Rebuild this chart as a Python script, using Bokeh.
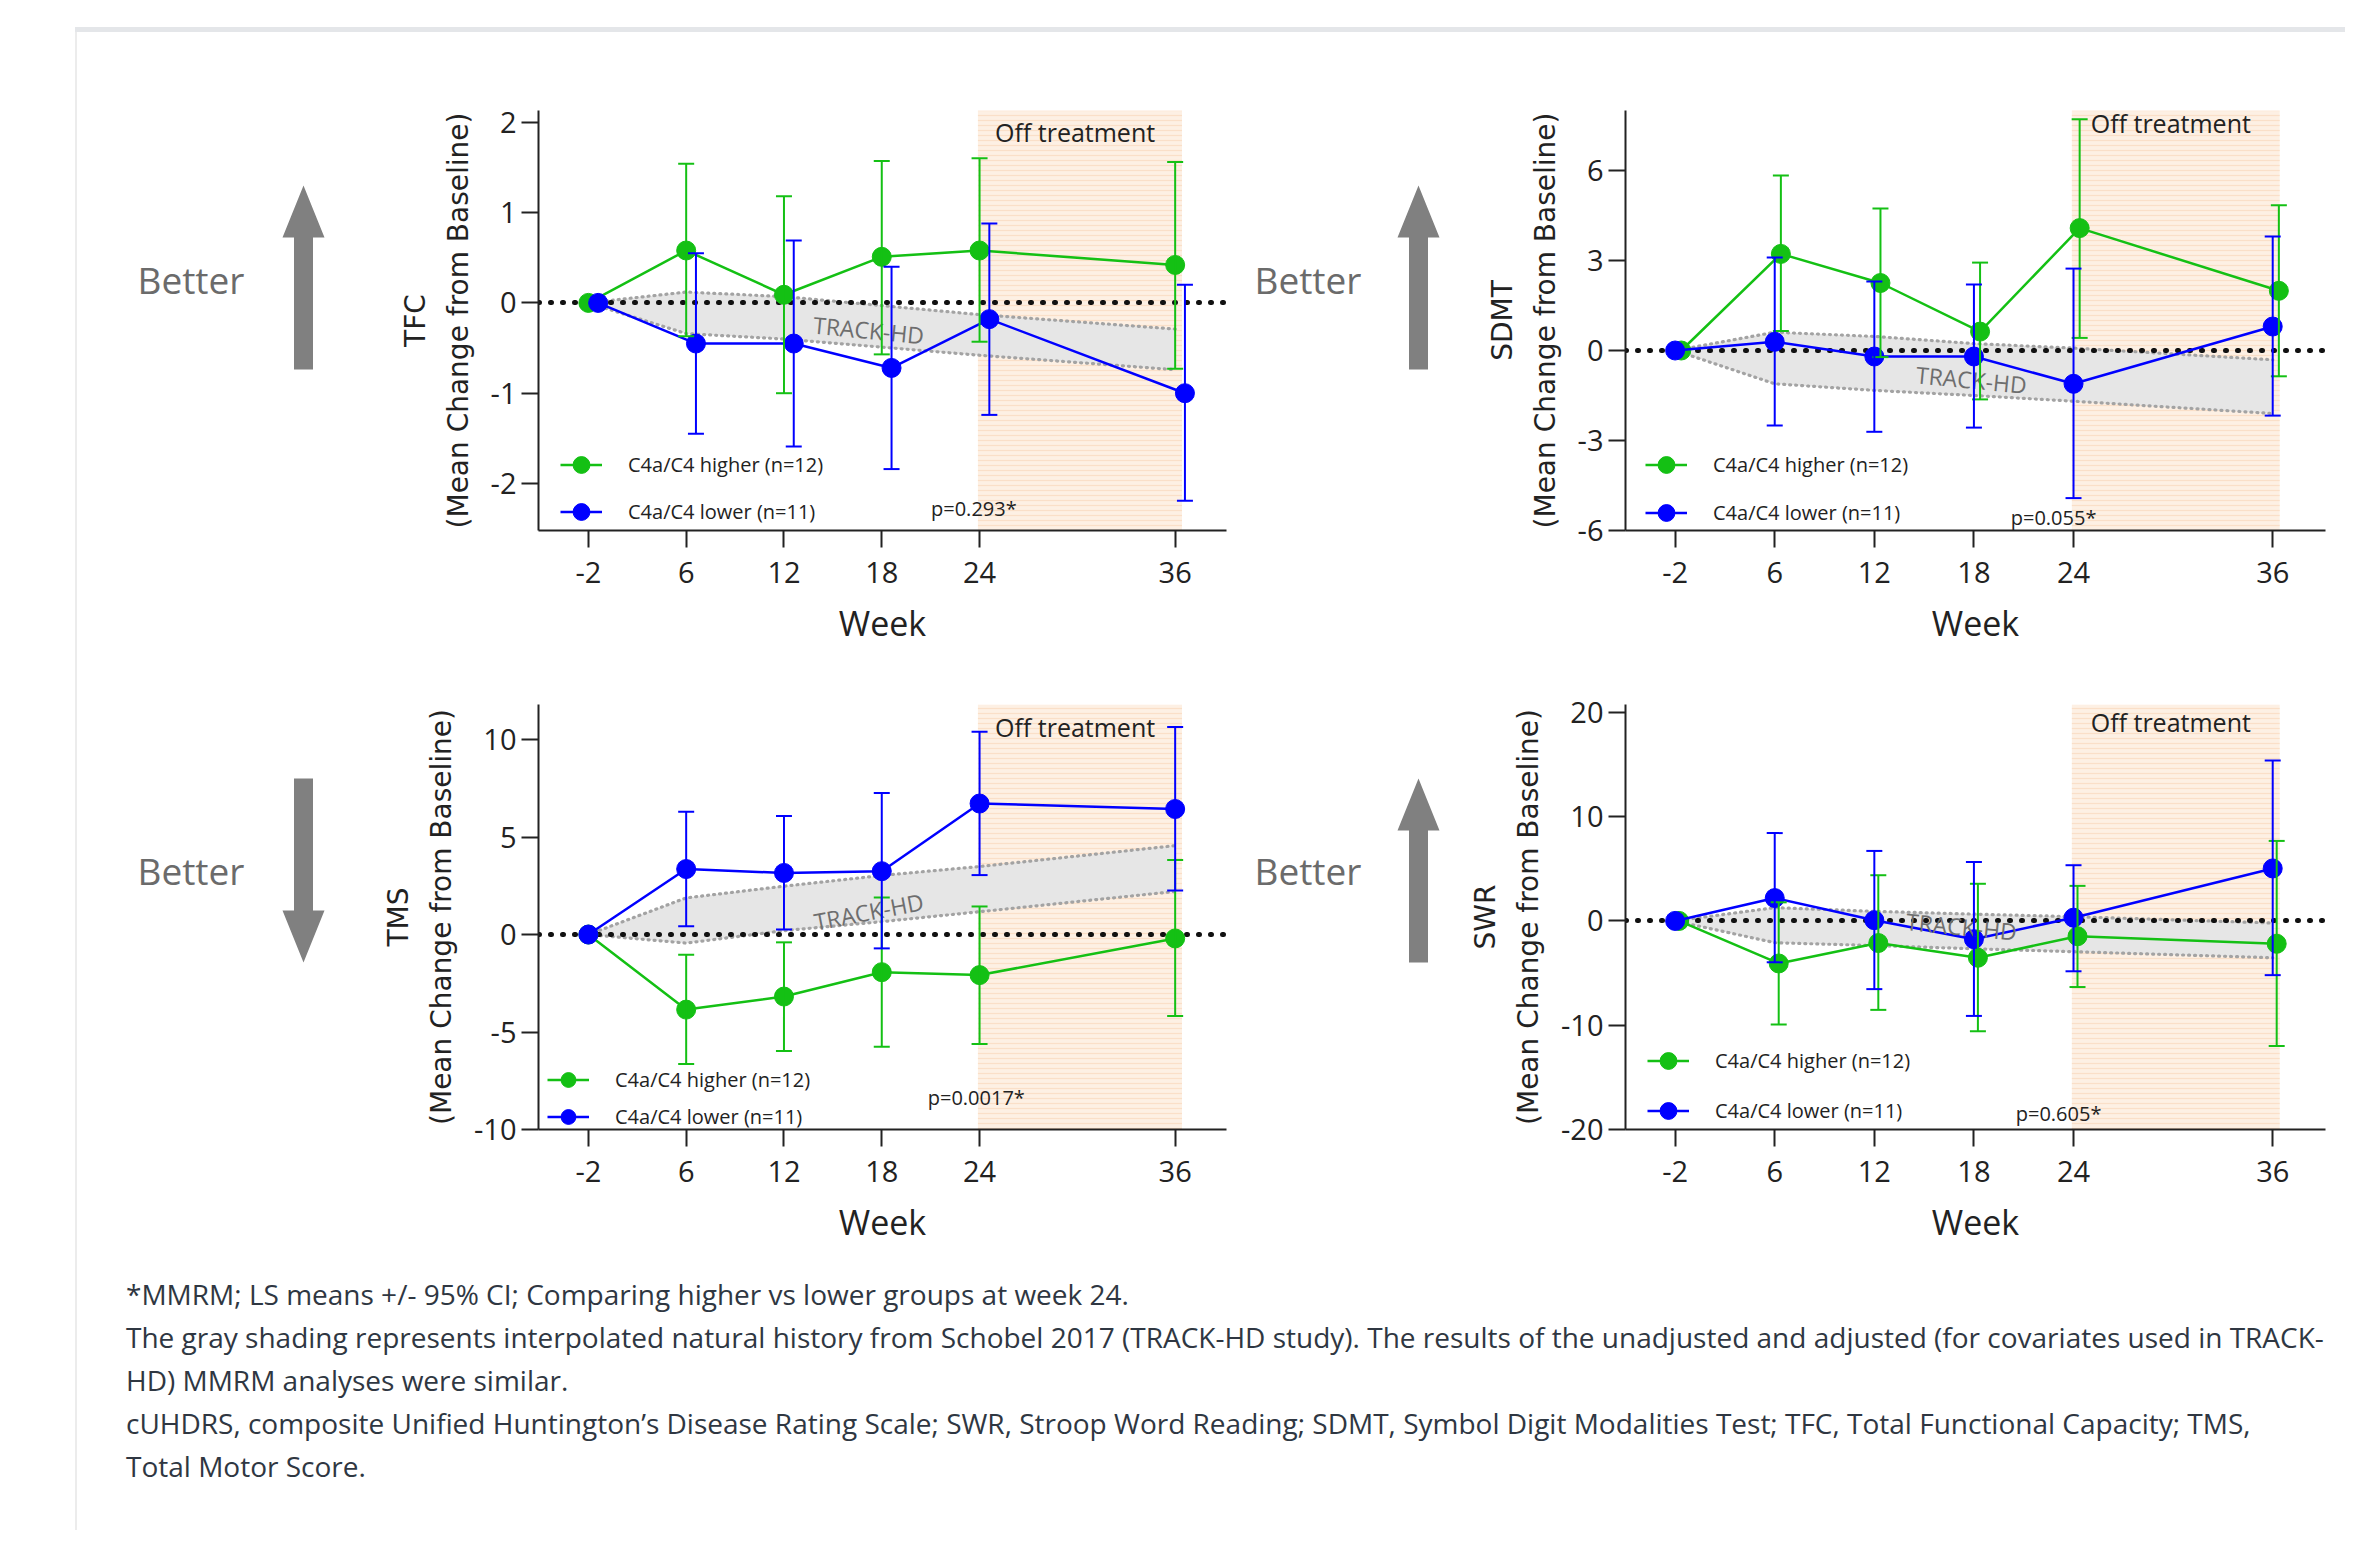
from bokeh.plotting import figure
from bokeh.models import (Range1d, Whisker, TeeHead, Legend, LegendItem, Label, Div,
                          Spacer, FixedTicker, ColumnDataSource)
from bokeh.layouts import row, column
from bokeh.transform import dodge
from bokeh.embed import file_html
from bokeh.resources import INLINE
from bokeh.core.properties import value

# ---------------- data ----------------
x_pos = [0, 6, 12, 18, 24, 36]
week_labels = ["-2", "6", "12", "18", "24", "36"]
off_start, off_end = 23.9, 36.42

# TFC
tfc_hi = [0, 0.58, 0.09, 0.51, 0.58, 0.42]
tfc_hi_lo = [0, -0.37, -1.00, -0.57, -0.43, -0.73]
tfc_hi_up = [0, 1.54, 1.18, 1.57, 1.60, 1.56]
tfc_lo = [0, -0.45, -0.45, -0.72, -0.18, -1.00]
tfc_lo_lo = [0, -1.45, -1.59, -1.84, -1.24, -2.19]
tfc_lo_up = [0, 0.55, 0.69, 0.40, 0.88, 0.20]
tfc_band_up = [0, 0.12, 0.07, -0.03, -0.13, -0.29]
tfc_band_lo = [0, -0.34, -0.40, -0.49, -0.58, -0.74]

# SDMT
sdmt_hi = [0, 3.22, 2.25, 0.63, 4.08, 1.99]
sdmt_hi_lo = [0, 0.65, -0.22, -1.63, 0.42, -0.86]
sdmt_hi_up = [0, 5.83, 4.73, 2.93, 7.71, 4.84]
sdmt_lo = [0, 0.29, -0.20, -0.20, -1.11, 0.80]
sdmt_lo_lo = [0, -2.50, -2.71, -2.57, -4.92, -2.17]
sdmt_lo_up = [0, 3.10, 2.30, 2.20, 2.73, 3.80]
sdmt_band_up = [0, 0.61, 0.47, 0.23, 0.08, -0.31]
sdmt_band_lo = [0, -1.11, -1.33, -1.50, -1.69, -2.10]

# TMS
tms_hi = [0, -3.85, -3.18, -1.93, -2.08, -0.20]
tms_hi_lo = [0, -6.64, -5.97, -5.75, -5.62, -4.18]
tms_hi_up = [0, -1.04, -0.40, 1.90, 1.44, 3.83]
tms_lo = [0, 3.36, 3.16, 3.25, 6.72, 6.44]
tms_lo_lo = [0, 0.42, 0.26, -0.71, 3.05, 2.26]
tms_lo_up = [0, 6.30, 6.08, 7.26, 10.40, 10.64]
tms_band_up = [0, 1.88, 2.48, 3.03, 3.49, 4.56]
tms_band_lo = [0, -0.44, 0.20, 0.66, 1.17, 2.21]

# SWR
swr_hi = [0, -4.08, -2.12, -3.53, -1.47, -2.19]
swr_hi_lo = [0, -9.93, -8.53, -10.58, -6.34, -11.99]
swr_hi_up = [0, 1.78, 4.38, 3.56, 3.36, 7.67]
swr_lo = [0, 2.19, 0.07, -1.75, 0.31, 5.03]
swr_lo_lo = [0, -3.97, -6.54, -9.11, -4.83, -5.20]
swr_lo_up = [0, 8.42, 6.71, 5.65, 5.34, 15.38]
swr_band_up = [0, 1.27, 0.92, 0.65, 0.41, -0.20]
swr_band_lo = [0, -2.09, -2.36, -2.67, -2.95, -3.53]

label_hi = "C4a/C4 higher (n=12)"
label_lo = "C4a/C4 lower (n=11)"

# ---------------- style ----------------
GREEN = "#14c014"
BLUE = "#0000ff"
AX = "#222222"
FONT = "Open Sans"
LBL_FONT = "DejaVu Sans"
L_BORDER, R_BORDER, B_BORDER = 170, 12, 120


def panel(name, yticks, yr, xr, frame_w, frame_h, top_border,
          hi, hi_lo, hi_up, lo, lo_lo, lo_up, b_up, b_lo,
          pval, p_x, p_px, off_px, track_xy, track_angle,
          dodge_hi, dodge_lo, leg_x, leg_bottom, leg_pitch):
    W = L_BORDER + frame_w + R_BORDER
    H = top_border + frame_h + B_BORDER
    p = figure(width=W, height=H, x_range=Range1d(*xr), y_range=Range1d(*yr),
               toolbar_location=None, output_backend="svg",
               min_border_left=L_BORDER, min_border_right=R_BORDER,
               min_border_top=top_border, min_border_bottom=B_BORDER)
    p.outline_line_color = None
    p.grid.visible = False
    p.background_fill_color = "white"
    dy = (yr[1] - yr[0]) / frame_h

    # off-treatment shading
    p.quad(left=[off_start], right=[off_end], bottom=[yr[0]], top=[yr[1]],
           fill_color="#fdf0e4", line_color=None, hatch_pattern="horizontal_line",
           hatch_color="#fadfc8", hatch_scale=5, hatch_weight=1.3)
    p.add_layout(Label(x=(off_start + off_end) / 2 - 0.3, y=yr[1] - off_px * dy,
                       text="Off treatment", text_align="center", text_baseline="middle",
                       text_font=FONT, text_font_size="25px", text_color="#222222"))

    # TRACK-HD band
    bsrc = ColumnDataSource(dict(x=x_pos, up=b_up, lo=b_lo))
    p.varea(x="x", y1="lo", y2="up", source=bsrc, fill_color="#e6e6e6")
    for col in ("up", "lo"):
        p.line(x="x", y=col, source=bsrc, line_color="#a3a3a3", line_width=3.2,
               line_dash="1 5", line_cap="round")
    p.add_layout(Label(x=track_xy[0], y=track_xy[1], text="TRACK-HD", angle=track_angle,
                       text_align="center", text_baseline="middle", text_font=FONT,
                       text_font_size="23px", text_color="#6e6e6e"))

    # zero line
    p.hspan(y=[0], line_color="#111111", line_width=5, line_dash="1 11", line_cap="round")

    items = []
    for vals, lows, ups, color, off, lab in ((hi, hi_lo, hi_up, GREEN, dodge_hi, label_hi),
                                             (lo, lo_lo, lo_up, BLUE, dodge_lo, label_lo)):
        src = ColumnDataSource(dict(x=x_pos, y=vals))
        wsrc = ColumnDataSource(dict(x=x_pos[1:], lo=lows[1:], up=ups[1:]))
        ln = p.line(x=dodge("x", off), y="y", source=src, line_color=color, line_width=2.5)
        w = Whisker(base=dodge("x", off), lower="lo", upper="up", source=wsrc,
                    line_color=color, line_width=2, level="annotation",
                    upper_head=TeeHead(size=16, line_color=color, line_width=2),
                    lower_head=TeeHead(size=16, line_color=color, line_width=2))
        p.add_layout(w)
        sc = p.scatter(x=dodge("x", off), y="y", source=src, size=19, fill_color=color,
                       line_color=color)
        items.append(LegendItem(label=lab, renderers=[ln, sc]))

    gh = min(45, leg_pitch)
    leg = Legend(items=items, location=(leg_x, leg_bottom - gh / 2), glyph_width=42,
                 glyph_height=gh, label_height=gh, spacing=leg_pitch - gh, padding=0,
                 margin=0, border_line_color=None, background_fill_alpha=0,
                 label_text_font=FONT, label_text_font_size="20px",
                 label_text_color="#222222", label_standoff=26)
    p.add_layout(leg)

    p.add_layout(Label(x=p_x, y=yr[0] + p_px * dy, text=pval, text_align="center",
                       text_baseline="middle", text_font=FONT, text_font_size="20px",
                       text_color="#222222"))

    # axes
    xa = p.xaxis[0]
    xa.ticker = FixedTicker(ticks=x_pos)
    xa.major_label_overrides = {k: v for k, v in zip(x_pos, week_labels)}
    xa.axis_label = "Week"
    ya = p.yaxis[0]
    ya.ticker = FixedTicker(ticks=yticks)
    ya.major_label_overrides = {t: str(t) for t in yticks}
    ya.axis_label = name + "\n(Mean Change from Baseline)"
    for a in (xa, ya):
        a.minor_tick_line_color = None
        a.major_tick_in = 0
        a.major_tick_out = 17
        a.major_tick_line_width = 2
        a.major_tick_line_color = AX
        a.axis_line_width = 2
        a.axis_line_color = AX
        a.major_label_text_font = FONT
        a.major_label_text_font_size = "29px"
        a.major_label_text_color = AX
        a.axis_label_text_font_style = "normal"
        a.axis_label_text_color = AX
    xa.major_label_standoff = 14
    xa.axis_label_text_font = FONT
    xa.axis_label_text_font_size = "34px"
    xa.axis_label_standoff = 14
    ya.major_label_standoff = 5
    ya.axis_label_text_font = LBL_FONT
    ya.axis_label_text_font_size = "28px"
    ya.axis_label_text_line_height = 1.3
    ya.axis_label_standoff = 13
    return p


def decor(w, top_border, frame_h, tx, ty, cx, y_a, y_b, up):
    h = top_border + frame_h + B_BORDER
    p = figure(width=w, height=h, x_range=Range1d(0, w),
               y_range=Range1d(top_border + frame_h, top_border),
               toolbar_location=None, output_backend="svg", x_axis_type=None,
               y_axis_type=None, min_border_left=0, min_border_right=0,
               min_border_top=top_border, min_border_bottom=B_BORDER)
    p.outline_line_color = None
    p.grid.visible = False
    p.text(x=[tx], y=[ty], text=["Better"], text_font=value(FONT), text_font_size="37px",
           text_color="#6b6b6b", text_baseline="middle", text_align="left")
    hw, sw, hh = 21, 9.5, 52
    if up:
        tip, base, hb = y_a, y_b, y_a + hh
    else:
        tip, base, hb = y_b, y_a, y_b - hh
    xs = [cx, cx + hw, cx + sw, cx + sw, cx - sw, cx - sw, cx - hw]
    ys = [tip, hb, hb, base, base, hb, hb]
    p.patch(xs, ys, fill_color="#808080", line_color=None)
    return p


LEFT_XR = (-3.06, 39.15)
RIGHT_XR = (-2.99, 39.18)
LW, RW = 688, 700

p_tfc = panel("TFC", [-2, -1, 0, 1, 2], (-2.52, 2.13), LEFT_XR, LW, 420, 78,
              tfc_hi, tfc_hi_lo, tfc_hi_up, tfc_lo, tfc_lo_lo, tfc_lo_up,
              tfc_band_up, tfc_band_lo, "p=0.293*", 23.65, 22, 21, (17.2, -0.30), -0.096,
              0.0, 0.6, 22, 19, 47)
p_sdmt = panel("SDMT", [-6, -3, 0, 3, 6], (-6, 8.0), RIGHT_XR, RW, 420, 78,
               sdmt_hi, sdmt_hi_lo, sdmt_hi_up, sdmt_lo, sdmt_lo_lo, sdmt_lo_up,
               sdmt_band_up, sdmt_band_lo, "p=0.055*", 22.8, 13, 12, (17.85, -0.97), -0.096,
               0.37, 0.0, 20, 18, 48)
p_tms = panel("TMS", [-10, -5, 0, 5, 10], (-10, 11.8), LEFT_XR, LW, 425, 54,
              tms_hi, tms_hi_lo, tms_hi_up, tms_lo, tms_lo_lo, tms_lo_up,
              tms_band_up, tms_band_lo, "p=0.0017*", 23.8, 32, 22, (17.2, 1.18), 0.19,
              0.0, 0.0, 9, 13, 37)
p_swr = panel("SWR", [-20, -10, 0, 10, 20], (-20, 20.75), RIGHT_XR, RW, 425, 54,
              swr_hi, swr_hi_lo, swr_hi_up, swr_lo, swr_lo_lo, swr_lo_up,
              swr_band_up, swr_band_lo, "p=0.605*", 23.1, 16, 17, (17.25, -0.53), -0.096,
              0.24, 0.0, 22, 19, 50)

d1 = decor(291, 78, 420, 60, 247, 226, 153, 337, True)
d2 = decor(217, 78, 420, 16, 247, 180, 153, 337, True)
d3 = decor(291, 54, 425, 60, 220, 226, 128, 312, False)
d4 = decor(217, 54, 425, 16, 220, 180, 128, 312, True)

foot_lines = [
    "*MMRM; LS means +/- 95% CI; Comparing higher vs lower groups at week 24.",
    "The gray shading represents interpolated natural history from Schobel 2017 (TRACK-HD study). "
    "The results of the unadjusted and adjusted (for covariates used in TRACK-",
    "HD) MMRM analyses were similar.",
    "cUHDRS, composite Unified Huntington\u2019s Disease Rating Scale; SWR, Stroop Word Reading; "
    "SDMT, Symbol Digit Modalities Test; TFC, Total Functional Capacity; TMS,",
    "Total Motor Score.",
]
foot = Div(text='<div style="font-family:\'Open Sans\';font-size:28px;line-height:43px;'
                'color:#2f3742;white-space:nowrap;">' + "<br>".join(foot_lines) + "</div>",
           width=2220, height=215, margin=0)

content = column(
    row(d1, p_tfc, d2, p_sdmt),
    row(d3, p_tms, d4, p_swr),
    Spacer(height=24),
    row(Spacer(width=49), foot),
)
top_bar = Div(text="", width=2270, height=5, margin=0,
              styles={"background-color": "#e4e6e9"})
left_bar = Div(text="", width=2, height=1498, margin=0,
               styles={"background-color": "#ececec"})
layout = column(
    Spacer(height=27),
    row(Spacer(width=75), top_bar),
    row(Spacer(width=75), left_bar, content),
)

open("out.html", "w").write(file_html(layout, INLINE))
